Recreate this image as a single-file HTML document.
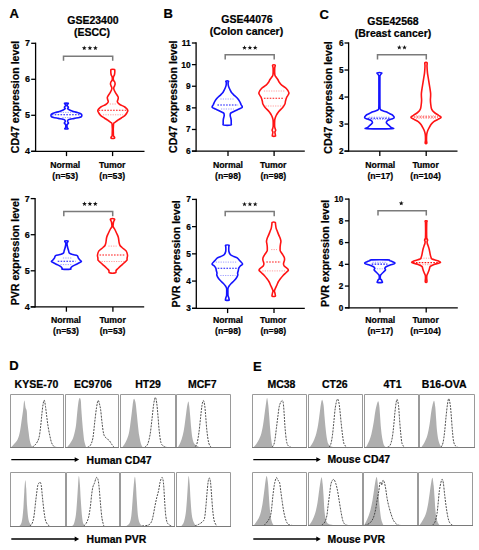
<!DOCTYPE html><html><head><meta charset="utf-8"><style>html,body{margin:0;padding:0;background:#fff;}svg{display:block;}text{font-family:"Liberation Sans", sans-serif;font-weight:bold;fill:#000;stroke:#000;stroke-width:0.22px;paint-order:stroke;}</style></head><body>
<svg width="479" height="550" viewBox="0 0 479 550">
<rect width="479" height="550" fill="#fff"/>
<text x="9.6" y="17.8" font-size="13" text-anchor="start" >A</text>
<text x="163.5" y="18.1" font-size="13" text-anchor="start" >B</text>
<text x="319.4" y="18.8" font-size="13" text-anchor="start" >C</text>
<text x="9.2" y="370" font-size="13" text-anchor="start" >D</text>
<text x="253" y="370.5" font-size="13" text-anchor="start" >E</text>
<text x="92.95" y="23.8" font-size="10.5" text-anchor="middle" >GSE23400</text>
<text x="92.05" y="35.7" font-size="10.5" text-anchor="middle" >(ESCC)</text>
<text x="247.0" y="23.3" font-size="10.5" text-anchor="middle" >GSE44076</text>
<text x="246.4" y="34.9" font-size="10.5" text-anchor="middle" >(Colon cancer)</text>
<text x="393.0" y="25.0" font-size="10.5" text-anchor="middle" >GSE42568</text>
<text x="393.0" y="37.1" font-size="10.5" text-anchor="middle" >(Breast cancer)</text>
<line x1="35.6" y1="42.65" x2="35.6" y2="151.95000000000002" stroke="#000" stroke-width="1.3" />
<line x1="31.200000000000003" y1="151.3" x2="144.5" y2="151.3" stroke="#000" stroke-width="1.3" />
<line x1="31.200000000000003" y1="43.3" x2="35.6" y2="43.3" stroke="#000" stroke-width="1.3" />
<text x="30.0" y="46.449999999999996" font-size="9.0" text-anchor="end" >7</text>
<line x1="31.200000000000003" y1="79.30000000000001" x2="35.6" y2="79.30000000000001" stroke="#000" stroke-width="1.3" />
<text x="30.0" y="82.45000000000002" font-size="9.0" text-anchor="end" >6</text>
<line x1="31.200000000000003" y1="115.30000000000001" x2="35.6" y2="115.30000000000001" stroke="#000" stroke-width="1.3" />
<text x="30.0" y="118.45000000000002" font-size="9.0" text-anchor="end" >5</text>
<line x1="31.200000000000003" y1="151.3" x2="35.6" y2="151.3" stroke="#000" stroke-width="1.3" />
<text x="30.0" y="154.45000000000002" font-size="9.0" text-anchor="end" >4</text>
<line x1="66.5" y1="151.3" x2="66.5" y2="156.10000000000002" stroke="#000" stroke-width="1.3" />
<line x1="112.6" y1="151.3" x2="112.6" y2="156.10000000000002" stroke="#000" stroke-width="1.3" />
<text x="0" y="0" font-size="10.6" text-anchor="middle" transform="translate(18.8,97.0) rotate(-90)">CD47 expression level</text>
<line x1="196.1" y1="42.35" x2="196.1" y2="151.75" stroke="#000" stroke-width="1.3" />
<line x1="191.9" y1="151.1" x2="304.8" y2="151.1" stroke="#000" stroke-width="1.3" />
<line x1="191.9" y1="43.0" x2="196.1" y2="43.0" stroke="#000" stroke-width="1.3" />
<text x="190.6" y="45.94" font-size="8.4" text-anchor="end" >11</text>
<line x1="191.9" y1="64.62" x2="196.1" y2="64.62" stroke="#000" stroke-width="1.3" />
<text x="190.6" y="67.56" font-size="8.4" text-anchor="end" >10</text>
<line x1="191.9" y1="86.24" x2="196.1" y2="86.24" stroke="#000" stroke-width="1.3" />
<text x="190.6" y="89.17999999999999" font-size="8.4" text-anchor="end" >9</text>
<line x1="191.9" y1="107.85999999999999" x2="196.1" y2="107.85999999999999" stroke="#000" stroke-width="1.3" />
<text x="190.6" y="110.79999999999998" font-size="8.4" text-anchor="end" >8</text>
<line x1="191.9" y1="129.48" x2="196.1" y2="129.48" stroke="#000" stroke-width="1.3" />
<text x="190.6" y="132.42" font-size="8.4" text-anchor="end" >7</text>
<line x1="191.9" y1="151.1" x2="196.1" y2="151.1" stroke="#000" stroke-width="1.3" />
<text x="190.6" y="154.04" font-size="8.4" text-anchor="end" >6</text>
<line x1="228.0" y1="151.1" x2="228.0" y2="155.9" stroke="#000" stroke-width="1.3" />
<line x1="274.1" y1="151.1" x2="274.1" y2="155.9" stroke="#000" stroke-width="1.3" />
<text x="0" y="0" font-size="10.6" text-anchor="middle" transform="translate(176.7,96.7) rotate(-90)">CD47 expression level</text>
<line x1="348.6" y1="42.35" x2="348.6" y2="151.75" stroke="#000" stroke-width="1.3" />
<line x1="344.5" y1="151.1" x2="457.5" y2="151.1" stroke="#000" stroke-width="1.3" />
<line x1="344.5" y1="43.0" x2="348.6" y2="43.0" stroke="#000" stroke-width="1.3" />
<text x="343.5" y="45.87" font-size="8.2" text-anchor="end" >6</text>
<line x1="344.5" y1="70.025" x2="348.6" y2="70.025" stroke="#000" stroke-width="1.3" />
<text x="343.5" y="72.89500000000001" font-size="8.2" text-anchor="end" >5</text>
<line x1="344.5" y1="97.05" x2="348.6" y2="97.05" stroke="#000" stroke-width="1.3" />
<text x="343.5" y="99.92" font-size="8.2" text-anchor="end" >4</text>
<line x1="344.5" y1="124.07499999999999" x2="348.6" y2="124.07499999999999" stroke="#000" stroke-width="1.3" />
<text x="343.5" y="126.945" font-size="8.2" text-anchor="end" >3</text>
<line x1="344.5" y1="151.1" x2="348.6" y2="151.1" stroke="#000" stroke-width="1.3" />
<text x="343.5" y="153.97" font-size="8.2" text-anchor="end" >2</text>
<line x1="379.8" y1="151.1" x2="379.8" y2="155.9" stroke="#000" stroke-width="1.3" />
<line x1="426.2" y1="151.1" x2="426.2" y2="155.9" stroke="#000" stroke-width="1.3" />
<text x="0" y="0" font-size="10.6" text-anchor="middle" transform="translate(332.2,97.5) rotate(-90)">CD47 expression level</text>
<line x1="35.1" y1="197.95" x2="35.1" y2="307.54999999999995" stroke="#000" stroke-width="1.3" />
<line x1="30.700000000000003" y1="306.9" x2="144.2" y2="306.9" stroke="#000" stroke-width="1.3" />
<line x1="30.700000000000003" y1="198.6" x2="35.1" y2="198.6" stroke="#000" stroke-width="1.3" />
<text x="29.8" y="201.75" font-size="9.0" text-anchor="end" >7</text>
<line x1="30.700000000000003" y1="234.7" x2="35.1" y2="234.7" stroke="#000" stroke-width="1.3" />
<text x="29.8" y="237.85" font-size="9.0" text-anchor="end" >6</text>
<line x1="30.700000000000003" y1="270.79999999999995" x2="35.1" y2="270.79999999999995" stroke="#000" stroke-width="1.3" />
<text x="29.8" y="273.94999999999993" font-size="9.0" text-anchor="end" >5</text>
<line x1="30.700000000000003" y1="306.9" x2="35.1" y2="306.9" stroke="#000" stroke-width="1.3" />
<text x="29.8" y="310.04999999999995" font-size="9.0" text-anchor="end" >4</text>
<line x1="66.4" y1="306.9" x2="66.4" y2="311.7" stroke="#000" stroke-width="1.3" />
<line x1="112.9" y1="306.9" x2="112.9" y2="311.7" stroke="#000" stroke-width="1.3" />
<text x="0" y="0" font-size="10.6" text-anchor="middle" transform="translate(18.8,251.75) rotate(-90)">PVR expression level</text>
<line x1="196.3" y1="198.75" x2="196.3" y2="308.95" stroke="#000" stroke-width="1.3" />
<line x1="192.0" y1="308.3" x2="304.8" y2="308.3" stroke="#000" stroke-width="1.3" />
<line x1="192.0" y1="199.4" x2="196.3" y2="199.4" stroke="#000" stroke-width="1.3" />
<text x="191.0" y="202.34" font-size="8.4" text-anchor="end" >7</text>
<line x1="192.0" y1="226.625" x2="196.3" y2="226.625" stroke="#000" stroke-width="1.3" />
<text x="191.0" y="229.565" font-size="8.4" text-anchor="end" >6</text>
<line x1="192.0" y1="253.85000000000002" x2="196.3" y2="253.85000000000002" stroke="#000" stroke-width="1.3" />
<text x="191.0" y="256.79" font-size="8.4" text-anchor="end" >5</text>
<line x1="192.0" y1="281.07500000000005" x2="196.3" y2="281.07500000000005" stroke="#000" stroke-width="1.3" />
<text x="191.0" y="284.01500000000004" font-size="8.4" text-anchor="end" >4</text>
<line x1="192.0" y1="308.3" x2="196.3" y2="308.3" stroke="#000" stroke-width="1.3" />
<text x="191.0" y="311.24" font-size="8.4" text-anchor="end" >3</text>
<line x1="227.6" y1="308.3" x2="227.6" y2="313.1" stroke="#000" stroke-width="1.3" />
<line x1="274.0" y1="308.3" x2="274.0" y2="313.1" stroke="#000" stroke-width="1.3" />
<text x="0" y="0" font-size="10.6" text-anchor="middle" transform="translate(180.3,253.85) rotate(-90)">PVR expression level</text>
<line x1="349.0" y1="198.45" x2="349.0" y2="308.45" stroke="#000" stroke-width="1.3" />
<line x1="344.9" y1="307.8" x2="457.8" y2="307.8" stroke="#000" stroke-width="1.3" />
<line x1="344.9" y1="199.1" x2="349.0" y2="199.1" stroke="#000" stroke-width="1.3" />
<text x="343.4" y="201.97" font-size="8.2" text-anchor="end" >10</text>
<line x1="344.9" y1="220.84" x2="349.0" y2="220.84" stroke="#000" stroke-width="1.3" />
<text x="343.4" y="223.71" font-size="8.2" text-anchor="end" >8</text>
<line x1="344.9" y1="242.57999999999998" x2="349.0" y2="242.57999999999998" stroke="#000" stroke-width="1.3" />
<text x="343.4" y="245.45" font-size="8.2" text-anchor="end" >6</text>
<line x1="344.9" y1="264.32" x2="349.0" y2="264.32" stroke="#000" stroke-width="1.3" />
<text x="343.4" y="267.19" font-size="8.2" text-anchor="end" >4</text>
<line x1="344.9" y1="286.06" x2="349.0" y2="286.06" stroke="#000" stroke-width="1.3" />
<text x="343.4" y="288.93" font-size="8.2" text-anchor="end" >2</text>
<line x1="344.9" y1="307.8" x2="349.0" y2="307.8" stroke="#000" stroke-width="1.3" />
<text x="343.4" y="310.67" font-size="8.2" text-anchor="end" >0</text>
<line x1="380.0" y1="307.8" x2="380.0" y2="312.6" stroke="#000" stroke-width="1.3" />
<line x1="426.2" y1="307.8" x2="426.2" y2="312.6" stroke="#000" stroke-width="1.3" />
<text x="0" y="0" font-size="10.6" text-anchor="middle" transform="translate(328.8,253.3) rotate(-90)">PVR expression level</text>
<text x="65.2" y="168.0" font-size="8.7" text-anchor="middle" >Normal</text>
<text x="65.2" y="178.7" font-size="8.7" text-anchor="middle" >(n=53)</text>
<text x="112.25" y="168.0" font-size="8.7" text-anchor="middle" >Tumor</text>
<text x="112.25" y="178.7" font-size="8.7" text-anchor="middle" >(n=53)</text>
<text x="228.0" y="168.0" font-size="8.7" text-anchor="middle" >Normal</text>
<text x="228.0" y="178.7" font-size="8.7" text-anchor="middle" >(n=98)</text>
<text x="273.3" y="168.0" font-size="8.7" text-anchor="middle" >Tumor</text>
<text x="273.3" y="178.7" font-size="8.7" text-anchor="middle" >(n=98)</text>
<text x="380.3" y="168.0" font-size="8.7" text-anchor="middle" >Normal</text>
<text x="380.3" y="178.7" font-size="8.7" text-anchor="middle" >(n=17)</text>
<text x="425.6" y="168.0" font-size="8.7" text-anchor="middle" >Tumor</text>
<text x="425.6" y="178.7" font-size="8.7" text-anchor="middle" >(n=104)</text>
<text x="66.0" y="323.4" font-size="8.7" text-anchor="middle" >Normal</text>
<text x="66.0" y="334.09999999999997" font-size="8.7" text-anchor="middle" >(n=53)</text>
<text x="112.6" y="323.4" font-size="8.7" text-anchor="middle" >Tumor</text>
<text x="112.6" y="334.09999999999997" font-size="8.7" text-anchor="middle" >(n=53)</text>
<text x="228.0" y="323.4" font-size="8.7" text-anchor="middle" >Normal</text>
<text x="228.0" y="334.09999999999997" font-size="8.7" text-anchor="middle" >(n=98)</text>
<text x="273.3" y="323.4" font-size="8.7" text-anchor="middle" >Tumor</text>
<text x="273.3" y="334.09999999999997" font-size="8.7" text-anchor="middle" >(n=98)</text>
<text x="380.3" y="323.4" font-size="8.7" text-anchor="middle" >Normal</text>
<text x="380.3" y="334.09999999999997" font-size="8.7" text-anchor="middle" >(n=17)</text>
<text x="425.6" y="323.4" font-size="8.7" text-anchor="middle" >Tumor</text>
<text x="425.6" y="334.09999999999997" font-size="8.7" text-anchor="middle" >(n=104)</text>
<polyline points="63.5,60.7 63.5,56.3 112.7,56.3 112.7,60.7" fill="none" stroke="#7a7a7a" stroke-width="1.5"/>
<polygon points="84.25,45.60 84.87,47.25 86.63,47.33 85.25,48.42 85.72,50.12 84.25,49.15 82.78,50.12 83.25,48.42 81.87,47.33 83.63,47.25" fill="#111"/>
<polygon points="89.90,45.60 90.52,47.25 92.28,47.33 90.90,48.42 91.37,50.12 89.90,49.15 88.43,50.12 88.90,48.42 87.52,47.33 89.28,47.25" fill="#111"/>
<polygon points="95.40,45.60 96.02,47.25 97.78,47.33 96.40,48.42 96.87,50.12 95.40,49.15 93.93,50.12 94.40,48.42 93.02,47.33 94.78,47.25" fill="#111"/>
<polyline points="225.2,59.6 225.2,54.7 274.2,54.7 274.2,59.6" fill="none" stroke="#7a7a7a" stroke-width="1.5"/>
<polygon points="244.50,45.25 245.12,46.90 246.88,46.98 245.50,48.07 245.97,49.77 244.50,48.80 243.03,49.77 243.50,48.07 242.12,46.98 243.88,46.90" fill="#111"/>
<polygon points="249.90,45.25 250.52,46.90 252.28,46.98 250.90,48.07 251.37,49.77 249.90,48.80 248.43,49.77 248.90,48.07 247.52,46.98 249.28,46.90" fill="#111"/>
<polygon points="255.20,45.25 255.82,46.90 257.58,46.98 256.20,48.07 256.67,49.77 255.20,48.80 253.73,49.77 254.20,48.07 252.82,46.98 254.58,46.90" fill="#111"/>
<polyline points="377.5,59.6 377.5,54.7 426.3,54.7 426.3,59.6" fill="none" stroke="#7a7a7a" stroke-width="1.5"/>
<polygon points="399.30,45.05 399.92,46.70 401.68,46.78 400.30,47.87 400.77,49.57 399.30,48.60 397.83,49.57 398.30,47.87 396.92,46.78 398.68,46.70" fill="#111"/>
<polygon points="404.50,45.05 405.12,46.70 406.88,46.78 405.50,47.87 405.97,49.57 404.50,48.60 403.03,49.57 403.50,47.87 402.12,46.78 403.88,46.70" fill="#111"/>
<polyline points="63.8,216.3 63.8,211.5 112.7,211.5 112.7,216.3" fill="none" stroke="#7a7a7a" stroke-width="1.5"/>
<polygon points="84.50,201.45 85.12,203.10 86.88,203.18 85.50,204.27 85.97,205.97 84.50,205.00 83.03,205.97 83.50,204.27 82.12,203.18 83.88,203.10" fill="#111"/>
<polygon points="89.90,201.45 90.52,203.10 92.28,203.18 90.90,204.27 91.37,205.97 89.90,205.00 88.43,205.97 88.90,204.27 87.52,203.18 89.28,203.10" fill="#111"/>
<polygon points="95.30,201.45 95.92,203.10 97.68,203.18 96.30,204.27 96.77,205.97 95.30,205.00 93.83,205.97 94.30,204.27 92.92,203.18 94.68,203.10" fill="#111"/>
<polyline points="225.2,216.3 225.2,211.5 274.2,211.5 274.2,216.3" fill="none" stroke="#7a7a7a" stroke-width="1.5"/>
<polygon points="244.50,201.75 245.12,203.40 246.88,203.48 245.50,204.57 245.97,206.27 244.50,205.30 243.03,206.27 243.50,204.57 242.12,203.48 243.88,203.40" fill="#111"/>
<polygon points="249.90,201.75 250.52,203.40 252.28,203.48 250.90,204.57 251.37,206.27 249.90,205.30 248.43,206.27 248.90,204.57 247.52,203.48 249.28,203.40" fill="#111"/>
<polygon points="255.20,201.75 255.82,203.40 257.58,203.48 256.20,204.57 256.67,206.27 255.20,205.30 253.73,206.27 254.20,204.57 252.82,203.48 254.58,203.40" fill="#111"/>
<polyline points="378.0,215.5 378.0,210.8 426.3,210.8 426.3,215.5" fill="none" stroke="#7a7a7a" stroke-width="1.5"/>
<polygon points="401.25,200.85 401.87,202.50 403.63,202.58 402.25,203.67 402.72,205.37 401.25,204.40 399.78,205.37 400.25,203.67 398.87,202.58 400.63,202.50" fill="#111"/>
<path d="M68.20,103.30 C68.65,103.52 67.48,104.22 67.30,104.60 C67.12,104.98 66.92,105.17 67.10,105.60 C67.28,106.03 68.32,106.70 68.40,107.20 C68.48,107.70 67.40,108.13 67.60,108.60 C67.80,109.07 68.63,109.52 69.60,110.00 C70.57,110.48 72.10,111.08 73.40,111.50 C74.70,111.92 76.23,112.18 77.40,112.50 C78.57,112.82 79.70,113.08 80.40,113.40 C81.10,113.72 81.40,113.90 81.60,114.40 C81.80,114.90 81.97,115.90 81.60,116.40 C81.23,116.90 80.60,117.07 79.40,117.40 C78.20,117.73 75.98,118.08 74.40,118.40 C72.82,118.72 71.00,119.00 69.90,119.30 C68.80,119.60 68.18,119.82 67.80,120.20 C67.42,120.58 67.48,121.12 67.60,121.60 C67.72,122.08 68.57,122.60 68.50,123.10 C68.43,123.60 67.43,123.90 67.20,124.60 C66.97,125.30 66.97,126.60 67.10,127.30 C67.23,128.00 68.38,128.55 68.00,128.80 C67.62,129.05 65.18,129.05 64.80,128.80 C64.42,128.55 65.57,128.00 65.70,127.30 C65.83,126.60 65.83,125.30 65.60,124.60 C65.37,123.90 64.37,123.60 64.30,123.10 C64.23,122.60 65.08,122.08 65.20,121.60 C65.32,121.12 65.38,120.58 65.00,120.20 C64.62,119.82 64.00,119.60 62.90,119.30 C61.80,119.00 59.98,118.72 58.40,118.40 C56.82,118.08 54.60,117.73 53.40,117.40 C52.20,117.07 51.57,116.90 51.20,116.40 C50.83,115.90 51.00,114.90 51.20,114.40 C51.40,113.90 51.70,113.72 52.40,113.40 C53.10,113.08 54.23,112.82 55.40,112.50 C56.57,112.18 58.10,111.92 59.40,111.50 C60.70,111.08 62.23,110.48 63.20,110.00 C64.17,109.52 65.00,109.07 65.20,108.60 C65.40,108.13 64.32,107.70 64.40,107.20 C64.48,106.70 65.52,106.03 65.70,105.60 C65.88,105.17 65.68,104.98 65.50,104.60 C65.32,104.22 64.15,103.52 64.60,103.30 C65.05,103.08 67.75,103.08 68.20,103.30Z" fill="none" stroke="#1414ff" stroke-width="1.6" stroke-linejoin="round"/>
<line x1="51.8" y1="114.7" x2="81.2" y2="114.7" stroke="#1414ff" stroke-width="1.05" stroke-dasharray="1.6,1.3"/>
<line x1="58" y1="112.4" x2="75" y2="112.4" stroke="#1414ff" stroke-width="0.9" stroke-dasharray="1.2,1.2" opacity="0.45"/>
<line x1="62.4" y1="117.6" x2="70.8" y2="117.6" stroke="#1414ff" stroke-width="0.9" stroke-dasharray="1.2,1.2" opacity="0.45"/>
<path d="M114.40,69.60 C115.00,69.83 114.78,70.18 114.80,71.00 C114.82,71.82 114.73,73.50 114.50,74.50 C114.27,75.50 113.58,76.08 113.40,77.00 C113.22,77.92 113.18,79.17 113.40,80.00 C113.62,80.83 114.42,81.33 114.70,82.00 C114.98,82.67 115.13,83.33 115.10,84.00 C115.07,84.67 114.73,85.25 114.50,86.00 C114.27,86.75 113.57,87.43 113.70,88.50 C113.83,89.57 114.62,91.10 115.30,92.40 C115.98,93.70 117.30,95.40 117.80,96.30 C118.30,97.20 118.30,97.18 118.30,97.80 C118.30,98.42 117.95,99.30 117.80,100.00 C117.65,100.70 117.07,101.25 117.40,102.00 C117.73,102.75 118.57,103.67 119.80,104.50 C121.03,105.33 123.47,106.05 124.80,107.00 C126.13,107.95 127.47,109.20 127.80,110.20 C128.13,111.20 127.30,112.10 126.80,113.00 C126.30,113.90 125.72,114.77 124.80,115.60 C123.88,116.43 122.47,117.23 121.30,118.00 C120.13,118.77 118.88,119.45 117.80,120.20 C116.72,120.95 115.52,121.78 114.80,122.50 C114.08,123.22 113.73,122.42 113.50,124.50 C113.27,126.58 113.25,132.92 113.40,135.00 C113.55,137.08 114.23,136.47 114.40,137.00 C114.57,137.53 114.93,138.00 114.40,138.20 C113.87,138.40 111.73,138.40 111.20,138.20 C110.67,138.00 111.03,137.53 111.20,137.00 C111.37,136.47 112.05,137.08 112.20,135.00 C112.35,132.92 112.33,126.58 112.10,124.50 C111.87,122.42 111.52,123.22 110.80,122.50 C110.08,121.78 108.88,120.95 107.80,120.20 C106.72,119.45 105.47,118.77 104.30,118.00 C103.13,117.23 101.72,116.43 100.80,115.60 C99.88,114.77 99.30,113.90 98.80,113.00 C98.30,112.10 97.47,111.20 97.80,110.20 C98.13,109.20 99.47,107.95 100.80,107.00 C102.13,106.05 104.57,105.33 105.80,104.50 C107.03,103.67 107.87,102.75 108.20,102.00 C108.53,101.25 107.95,100.70 107.80,100.00 C107.65,99.30 107.30,98.42 107.30,97.80 C107.30,97.18 107.30,97.20 107.80,96.30 C108.30,95.40 109.62,93.70 110.30,92.40 C110.98,91.10 111.77,89.57 111.90,88.50 C112.03,87.43 111.33,86.75 111.10,86.00 C110.87,85.25 110.53,84.67 110.50,84.00 C110.47,83.33 110.62,82.67 110.90,82.00 C111.18,81.33 111.98,80.83 112.20,80.00 C112.42,79.17 112.38,77.92 112.20,77.00 C112.02,76.08 111.33,75.50 111.10,74.50 C110.87,73.50 110.78,71.82 110.80,71.00 C110.82,70.18 110.60,69.83 111.20,69.60 C111.80,69.37 113.80,69.37 114.40,69.60Z" fill="none" stroke="#ff1414" stroke-width="1.6" stroke-linejoin="round"/>
<line x1="98.6" y1="110.2" x2="127.2" y2="110.2" stroke="#ff1414" stroke-width="1.05" stroke-dasharray="1.6,1.3"/>
<line x1="109.8" y1="104" x2="115.8" y2="104" stroke="#ff1414" stroke-width="0.9" stroke-dasharray="1.2,1.2" opacity="0.45"/>
<line x1="103" y1="114.8" x2="123" y2="114.8" stroke="#ff1414" stroke-width="0.9" stroke-dasharray="1.2,1.2" opacity="0.45"/>
<path d="M67.90,241.10 C68.33,241.28 67.65,241.82 67.50,242.20 C67.35,242.58 67.03,242.77 67.00,243.40 C66.97,244.03 67.13,245.10 67.30,246.00 C67.47,246.90 67.77,247.97 68.00,248.80 C68.23,249.63 68.47,250.27 68.70,251.00 C68.93,251.73 68.70,252.60 69.40,253.20 C70.10,253.80 71.60,254.20 72.90,254.60 C74.20,255.00 76.28,255.00 77.20,255.60 C78.12,256.20 77.95,257.47 78.40,258.20 C78.85,258.93 79.40,259.45 79.90,260.00 C80.40,260.55 81.57,261.00 81.40,261.50 C81.23,262.00 79.82,262.50 78.90,263.00 C77.98,263.50 77.05,263.88 75.90,264.50 C74.75,265.12 72.88,266.07 72.00,266.70 C71.12,267.33 70.87,267.88 70.60,268.30 C70.33,268.72 71.77,269.05 70.40,269.20 C69.03,269.35 63.77,269.35 62.40,269.20 C61.03,269.05 62.47,268.72 62.20,268.30 C61.93,267.88 61.68,267.33 60.80,266.70 C59.92,266.07 58.05,265.12 56.90,264.50 C55.75,263.88 54.82,263.50 53.90,263.00 C52.98,262.50 51.57,262.00 51.40,261.50 C51.23,261.00 52.40,260.55 52.90,260.00 C53.40,259.45 53.95,258.93 54.40,258.20 C54.85,257.47 54.68,256.20 55.60,255.60 C56.52,255.00 58.60,255.00 59.90,254.60 C61.20,254.20 62.70,253.80 63.40,253.20 C64.10,252.60 63.87,251.73 64.10,251.00 C64.33,250.27 64.57,249.63 64.80,248.80 C65.03,247.97 65.33,246.90 65.50,246.00 C65.67,245.10 65.83,244.03 65.80,243.40 C65.77,242.77 65.45,242.58 65.30,242.20 C65.15,241.82 64.47,241.28 64.90,241.10 C65.33,240.92 67.47,240.92 67.90,241.10Z" fill="none" stroke="#1414ff" stroke-width="1.6" stroke-linejoin="round"/>
<line x1="57.7" y1="261.2" x2="75.5" y2="261.2" stroke="#1414ff" stroke-width="1.05" stroke-dasharray="1.6,1.3"/>
<line x1="62.9" y1="258" x2="71.8" y2="258" stroke="#1414ff" stroke-width="0.9" stroke-dasharray="1.2,1.2" opacity="0.45"/>
<line x1="60.5" y1="264.6" x2="72.3" y2="264.6" stroke="#1414ff" stroke-width="0.9" stroke-dasharray="1.2,1.2" opacity="0.45"/>
<path d="M114.40,218.90 C115.00,219.17 114.35,219.98 114.20,220.50 C114.05,221.02 113.68,221.03 113.50,222.00 C113.32,222.97 112.92,225.13 113.10,226.30 C113.28,227.47 114.03,227.88 114.60,229.00 C115.17,230.12 115.88,231.63 116.50,233.00 C117.12,234.37 117.87,235.58 118.30,237.20 C118.73,238.82 118.82,241.32 119.10,242.70 C119.38,244.08 119.52,244.70 120.00,245.50 C120.48,246.30 120.98,246.60 122.00,247.50 C123.02,248.40 125.18,249.65 126.10,250.90 C127.02,252.15 127.33,253.82 127.50,255.00 C127.67,256.18 127.22,257.10 127.10,258.00 C126.98,258.90 127.32,259.57 126.80,260.40 C126.28,261.23 125.02,262.08 124.00,263.00 C122.98,263.92 121.70,264.98 120.70,265.90 C119.70,266.82 118.77,267.73 118.00,268.50 C117.23,269.27 116.52,269.78 116.10,270.50 C115.68,271.22 116.60,272.42 115.50,272.80 C114.40,273.18 110.60,273.18 109.50,272.80 C108.40,272.42 109.32,271.22 108.90,270.50 C108.48,269.78 107.77,269.27 107.00,268.50 C106.23,267.73 105.30,266.82 104.30,265.90 C103.30,264.98 102.02,263.92 101.00,263.00 C99.98,262.08 98.72,261.23 98.20,260.40 C97.68,259.57 98.02,258.90 97.90,258.00 C97.78,257.10 97.33,256.18 97.50,255.00 C97.67,253.82 97.98,252.15 98.90,250.90 C99.82,249.65 101.98,248.40 103.00,247.50 C104.02,246.60 104.52,246.30 105.00,245.50 C105.48,244.70 105.62,244.08 105.90,242.70 C106.18,241.32 106.27,238.82 106.70,237.20 C107.13,235.58 107.88,234.37 108.50,233.00 C109.12,231.63 109.83,230.12 110.40,229.00 C110.97,227.88 111.72,227.47 111.90,226.30 C112.08,225.13 111.68,222.97 111.50,222.00 C111.32,221.03 110.95,221.02 110.80,220.50 C110.65,219.98 110.00,219.17 110.60,218.90 C111.20,218.63 113.80,218.63 114.40,218.90Z" fill="none" stroke="#ff1414" stroke-width="1.6" stroke-linejoin="round"/>
<line x1="99.5" y1="255" x2="125.5" y2="255" stroke="#ff1414" stroke-width="1.05" stroke-dasharray="1.6,1.3"/>
<line x1="108.4" y1="246.1" x2="116.6" y2="246.1" stroke="#ff1414" stroke-width="0.9" stroke-dasharray="1.2,1.2" opacity="0.45"/>
<line x1="101.6" y1="261.5" x2="124.7" y2="261.5" stroke="#ff1414" stroke-width="0.9" stroke-dasharray="1.2,1.2" opacity="0.45"/>
<path d="M228.50,81.20 C228.87,81.42 228.13,81.80 228.10,82.50 C228.07,83.20 228.12,84.48 228.30,85.40 C228.48,86.32 228.88,87.22 229.20,88.00 C229.52,88.78 229.82,89.35 230.20,90.10 C230.58,90.85 230.92,91.72 231.50,92.50 C232.08,93.28 232.79,93.92 233.70,94.80 C234.61,95.68 235.97,96.72 236.95,97.80 C237.93,98.88 238.92,100.18 239.60,101.30 C240.28,102.42 240.55,103.52 241.00,104.50 C241.45,105.48 242.52,106.50 242.30,107.20 C242.08,107.90 240.68,108.20 239.70,108.70 C238.72,109.20 237.48,109.68 236.40,110.20 C235.32,110.72 234.15,111.32 233.20,111.80 C232.25,112.28 231.20,112.57 230.70,113.10 C230.20,113.63 230.25,114.40 230.20,115.00 C230.15,115.60 230.27,116.03 230.40,116.70 C230.53,117.37 230.87,118.32 231.00,119.00 C231.13,119.68 231.17,120.05 231.20,120.80 C231.23,121.55 231.28,122.80 231.20,123.50 C231.12,124.20 231.95,124.75 230.70,125.00 C229.45,125.25 224.95,125.25 223.70,125.00 C222.45,124.75 223.28,124.20 223.20,123.50 C223.12,122.80 223.17,121.55 223.20,120.80 C223.23,120.05 223.27,119.68 223.40,119.00 C223.53,118.32 223.87,117.37 224.00,116.70 C224.13,116.03 224.25,115.60 224.20,115.00 C224.15,114.40 224.20,113.63 223.70,113.10 C223.20,112.57 222.15,112.28 221.20,111.80 C220.25,111.32 219.08,110.72 218.00,110.20 C216.92,109.68 215.68,109.20 214.70,108.70 C213.72,108.20 212.32,107.90 212.10,107.20 C211.88,106.50 212.95,105.48 213.40,104.50 C213.85,103.52 214.12,102.42 214.80,101.30 C215.47,100.18 216.47,98.88 217.45,97.80 C218.43,96.72 219.79,95.68 220.70,94.80 C221.61,93.92 222.32,93.28 222.90,92.50 C223.48,91.72 223.82,90.85 224.20,90.10 C224.58,89.35 224.88,88.78 225.20,88.00 C225.52,87.22 225.92,86.32 226.10,85.40 C226.28,84.48 226.33,83.20 226.30,82.50 C226.27,81.80 225.53,81.42 225.90,81.20 C226.27,80.98 228.13,80.98 228.50,81.20Z" fill="none" stroke="#1414ff" stroke-width="1.6" stroke-linejoin="round"/>
<line x1="217.4" y1="104.9" x2="238.1" y2="104.9" stroke="#1414ff" stroke-width="1.05" stroke-dasharray="1.6,1.3"/>
<line x1="220.4" y1="99" x2="234.5" y2="99" stroke="#1414ff" stroke-width="0.9" stroke-dasharray="1.2,1.2" opacity="0.45"/>
<line x1="221" y1="109" x2="234" y2="109" stroke="#1414ff" stroke-width="0.9" stroke-dasharray="1.2,1.2" opacity="0.45"/>
<path d="M275.20,65.10 C275.55,65.58 274.77,66.42 274.70,68.00 C274.63,69.58 274.58,73.10 274.80,74.60 C275.02,76.10 275.50,76.18 276.00,77.00 C276.50,77.82 277.23,78.58 277.80,79.50 C278.37,80.42 278.75,81.55 279.40,82.50 C280.05,83.45 280.55,84.20 281.70,85.20 C282.85,86.20 285.10,87.27 286.30,88.50 C287.50,89.73 288.60,91.52 288.90,92.60 C289.20,93.68 288.48,94.18 288.10,95.00 C287.72,95.82 287.03,96.50 286.60,97.50 C286.17,98.50 285.78,99.92 285.50,101.00 C285.22,102.08 285.37,102.92 284.90,104.00 C284.43,105.08 283.58,106.40 282.70,107.50 C281.82,108.60 280.43,109.68 279.60,110.60 C278.77,111.52 278.27,112.18 277.70,113.00 C277.13,113.82 276.62,114.67 276.20,115.50 C275.78,116.33 275.45,117.18 275.20,118.00 C274.95,118.82 274.80,119.07 274.70,120.40 C274.60,121.73 274.53,124.65 274.60,126.00 C274.67,127.35 274.92,127.80 275.10,128.50 C275.28,129.20 275.73,129.62 275.70,130.20 C275.67,130.78 274.97,131.28 274.90,132.00 C274.83,132.72 275.22,133.83 275.30,134.50 C275.38,135.17 275.88,135.75 275.40,136.00 C274.92,136.25 272.88,136.25 272.40,136.00 C271.92,135.75 272.42,135.17 272.50,134.50 C272.58,133.83 272.97,132.72 272.90,132.00 C272.83,131.28 272.13,130.78 272.10,130.20 C272.07,129.62 272.52,129.20 272.70,128.50 C272.88,127.80 273.13,127.35 273.20,126.00 C273.27,124.65 273.20,121.73 273.10,120.40 C273.00,119.07 272.85,118.82 272.60,118.00 C272.35,117.18 272.02,116.33 271.60,115.50 C271.18,114.67 270.67,113.82 270.10,113.00 C269.53,112.18 269.03,111.52 268.20,110.60 C267.37,109.68 265.98,108.60 265.10,107.50 C264.22,106.40 263.37,105.08 262.90,104.00 C262.43,102.92 262.58,102.08 262.30,101.00 C262.02,99.92 261.63,98.50 261.20,97.50 C260.77,96.50 260.08,95.82 259.70,95.00 C259.32,94.18 258.60,93.68 258.90,92.60 C259.20,91.52 260.30,89.73 261.50,88.50 C262.70,87.27 264.95,86.20 266.10,85.20 C267.25,84.20 267.75,83.45 268.40,82.50 C269.05,81.55 269.43,80.42 270.00,79.50 C270.57,78.58 271.30,77.82 271.80,77.00 C272.30,76.18 272.78,76.10 273.00,74.60 C273.22,73.10 273.17,69.58 273.10,68.00 C273.03,66.42 272.25,65.58 272.60,65.10 C272.95,64.62 274.85,64.62 275.20,65.10Z" fill="none" stroke="#ff1414" stroke-width="1.6" stroke-linejoin="round"/>
<line x1="263.9" y1="98.3" x2="284.3" y2="98.3" stroke="#ff1414" stroke-width="1.05" stroke-dasharray="1.6,1.3"/>
<line x1="263.9" y1="91" x2="284.3" y2="91" stroke="#ff1414" stroke-width="0.9" stroke-dasharray="1.2,1.2" opacity="0.45"/>
<line x1="265.5" y1="106" x2="282.7" y2="106" stroke="#ff1414" stroke-width="0.9" stroke-dasharray="1.2,1.2" opacity="0.45"/>
<path d="M228.95,245.20 C229.48,245.50 228.81,245.95 228.80,247.00 C228.79,248.05 228.62,250.22 228.90,251.50 C229.18,252.78 229.68,253.87 230.50,254.70 C231.32,255.53 232.68,255.97 233.80,256.50 C234.92,257.03 236.15,257.15 237.20,257.90 C238.25,258.65 239.20,259.98 240.10,261.00 C241.00,262.02 242.57,263.17 242.60,264.00 C242.63,264.83 240.93,265.32 240.30,266.00 C239.67,266.68 239.13,267.35 238.80,268.10 C238.47,268.85 238.50,269.65 238.30,270.50 C238.10,271.35 237.68,272.45 237.60,273.20 C237.52,273.95 238.03,274.15 237.80,275.00 C237.57,275.85 236.87,277.30 236.20,278.30 C235.53,279.30 234.60,280.17 233.80,281.00 C233.00,281.83 232.18,282.47 231.40,283.30 C230.62,284.13 229.67,285.15 229.10,286.00 C228.53,286.85 228.20,287.40 228.00,288.40 C227.80,289.40 227.90,290.82 227.90,292.00 C227.90,293.18 227.87,294.58 228.00,295.50 C228.13,296.42 228.52,296.85 228.70,297.50 C228.88,298.15 229.07,298.95 229.10,299.40 C229.13,299.85 229.47,300.07 228.90,300.20 C228.33,300.33 226.27,300.33 225.70,300.20 C225.13,300.07 225.47,299.85 225.50,299.40 C225.53,298.95 225.72,298.15 225.90,297.50 C226.08,296.85 226.47,296.42 226.60,295.50 C226.73,294.58 226.70,293.18 226.70,292.00 C226.70,290.82 226.80,289.40 226.60,288.40 C226.40,287.40 226.07,286.85 225.50,286.00 C224.93,285.15 223.98,284.13 223.20,283.30 C222.42,282.47 221.60,281.83 220.80,281.00 C220.00,280.17 219.07,279.30 218.40,278.30 C217.73,277.30 217.03,275.85 216.80,275.00 C216.57,274.15 217.08,273.95 217.00,273.20 C216.92,272.45 216.50,271.35 216.30,270.50 C216.10,269.65 216.13,268.85 215.80,268.10 C215.47,267.35 214.93,266.68 214.30,266.00 C213.67,265.32 211.97,264.83 212.00,264.00 C212.03,263.17 213.60,262.02 214.50,261.00 C215.40,259.98 216.35,258.65 217.40,257.90 C218.45,257.15 219.68,257.03 220.80,256.50 C221.92,255.97 223.28,255.53 224.10,254.70 C224.92,253.87 225.42,252.78 225.70,251.50 C225.98,250.22 225.81,248.05 225.80,247.00 C225.79,245.95 225.12,245.50 225.65,245.20 C226.18,244.90 228.43,244.90 228.95,245.20Z" fill="none" stroke="#1414ff" stroke-width="1.6" stroke-linejoin="round"/>
<line x1="217.7" y1="268.3" x2="238.7" y2="268.3" stroke="#1414ff" stroke-width="1.05" stroke-dasharray="1.6,1.3"/>
<line x1="215.8" y1="262.1" x2="237.4" y2="262.1" stroke="#1414ff" stroke-width="0.9" stroke-dasharray="1.2,1.2" opacity="0.45"/>
<line x1="220.3" y1="275.5" x2="235.5" y2="275.5" stroke="#1414ff" stroke-width="0.9" stroke-dasharray="1.2,1.2" opacity="0.45"/>
<path d="M275.20,222.40 C275.75,222.67 275.35,223.05 275.50,224.00 C275.65,224.95 275.82,226.93 276.10,228.10 C276.38,229.27 276.78,229.92 277.20,231.00 C277.62,232.08 278.12,233.43 278.60,234.60 C279.08,235.77 279.72,236.92 280.10,238.00 C280.48,239.08 280.83,240.10 280.90,241.10 C280.97,242.10 280.62,243.18 280.50,244.00 C280.38,244.82 280.27,245.17 280.20,246.00 C280.13,246.83 280.08,248.17 280.10,249.00 C280.12,249.83 279.93,250.17 280.30,251.00 C280.67,251.83 281.63,252.92 282.30,254.00 C282.97,255.08 283.93,256.50 284.30,257.50 C284.67,258.50 284.57,259.25 284.50,260.00 C284.43,260.75 284.07,261.33 283.90,262.00 C283.73,262.67 283.45,263.33 283.50,264.00 C283.55,264.67 283.67,265.33 284.20,266.00 C284.73,266.67 286.00,267.30 286.70,268.00 C287.40,268.70 288.48,269.45 288.40,270.20 C288.32,270.95 287.08,271.62 286.20,272.50 C285.32,273.38 284.10,274.42 283.10,275.50 C282.10,276.58 281.02,277.92 280.20,279.00 C279.38,280.08 278.78,280.92 278.20,282.00 C277.62,283.08 277.18,284.42 276.70,285.50 C276.22,286.58 275.68,287.58 275.30,288.50 C274.92,289.42 274.47,290.25 274.40,291.00 C274.33,291.75 274.75,292.33 274.90,293.00 C275.05,293.67 275.25,294.47 275.30,295.00 C275.35,295.53 275.72,296.00 275.20,296.20 C274.68,296.40 272.72,296.40 272.20,296.20 C271.68,296.00 272.05,295.53 272.10,295.00 C272.15,294.47 272.35,293.67 272.50,293.00 C272.65,292.33 273.07,291.75 273.00,291.00 C272.93,290.25 272.48,289.42 272.10,288.50 C271.72,287.58 271.18,286.58 270.70,285.50 C270.22,284.42 269.78,283.08 269.20,282.00 C268.62,280.92 268.02,280.08 267.20,279.00 C266.38,277.92 265.30,276.58 264.30,275.50 C263.30,274.42 262.08,273.38 261.20,272.50 C260.32,271.62 259.08,270.95 259.00,270.20 C258.92,269.45 260.00,268.70 260.70,268.00 C261.40,267.30 262.67,266.67 263.20,266.00 C263.73,265.33 263.85,264.67 263.90,264.00 C263.95,263.33 263.67,262.67 263.50,262.00 C263.33,261.33 262.97,260.75 262.90,260.00 C262.83,259.25 262.73,258.50 263.10,257.50 C263.47,256.50 264.43,255.08 265.10,254.00 C265.77,252.92 266.73,251.83 267.10,251.00 C267.47,250.17 267.28,249.83 267.30,249.00 C267.32,248.17 267.27,246.83 267.20,246.00 C267.13,245.17 267.02,244.82 266.90,244.00 C266.78,243.18 266.43,242.10 266.50,241.10 C266.57,240.10 266.92,239.08 267.30,238.00 C267.68,236.92 268.32,235.77 268.80,234.60 C269.28,233.43 269.78,232.08 270.20,231.00 C270.62,229.92 271.02,229.27 271.30,228.10 C271.58,226.93 271.75,224.95 271.90,224.00 C272.05,223.05 271.65,222.67 272.20,222.40 C272.75,222.13 274.65,222.13 275.20,222.40Z" fill="none" stroke="#ff1414" stroke-width="1.6" stroke-linejoin="round"/>
<line x1="266.3" y1="261.9" x2="281" y2="261.9" stroke="#ff1414" stroke-width="1.05" stroke-dasharray="1.6,1.3"/>
<line x1="271.2" y1="249.6" x2="277" y2="249.6" stroke="#ff1414" stroke-width="0.9" stroke-dasharray="1.2,1.2" opacity="0.45"/>
<line x1="262.3" y1="270.9" x2="286" y2="270.9" stroke="#ff1414" stroke-width="0.9" stroke-dasharray="1.2,1.2" opacity="0.45"/>
<path d="M381.70,72.90 C382.33,73.12 381.18,73.72 380.90,74.20 C380.62,74.68 380.17,75.17 380.00,75.80 C379.83,76.43 379.92,73.97 379.90,78.00 C379.88,82.03 379.88,95.00 379.90,100.00 C379.92,105.00 379.85,106.37 380.00,108.00 C380.15,109.63 380.23,109.30 380.80,109.80 C381.37,110.30 382.42,110.62 383.40,111.00 C384.38,111.38 385.62,111.63 386.70,112.10 C387.78,112.57 388.88,113.27 389.90,113.80 C390.92,114.33 392.08,114.63 392.80,115.30 C393.52,115.97 394.43,117.18 394.20,117.80 C393.97,118.42 392.43,118.58 391.40,119.00 C390.37,119.42 388.80,119.87 388.00,120.30 C387.20,120.73 386.87,121.17 386.60,121.60 C386.33,122.03 386.18,122.42 386.40,122.90 C386.62,123.38 387.37,123.98 387.90,124.50 C388.43,125.02 389.05,125.50 389.60,126.00 C390.15,126.50 390.80,127.07 391.20,127.50 C391.60,127.93 396.07,128.42 392.00,128.60 C387.93,128.78 370.87,128.78 366.80,128.60 C362.73,128.42 367.20,127.93 367.60,127.50 C368.00,127.07 368.65,126.50 369.20,126.00 C369.75,125.50 370.37,125.02 370.90,124.50 C371.43,123.98 372.18,123.38 372.40,122.90 C372.62,122.42 372.47,122.03 372.20,121.60 C371.93,121.17 371.60,120.73 370.80,120.30 C370.00,119.87 368.43,119.42 367.40,119.00 C366.37,118.58 364.83,118.42 364.60,117.80 C364.37,117.18 365.28,115.97 366.00,115.30 C366.72,114.63 367.88,114.33 368.90,113.80 C369.92,113.27 371.02,112.57 372.10,112.10 C373.18,111.63 374.42,111.38 375.40,111.00 C376.38,110.62 377.43,110.30 378.00,109.80 C378.57,109.30 378.65,109.63 378.80,108.00 C378.95,106.37 378.88,105.00 378.90,100.00 C378.92,95.00 378.92,82.03 378.90,78.00 C378.88,73.97 378.97,76.43 378.80,75.80 C378.63,75.17 378.18,74.68 377.90,74.20 C377.62,73.72 376.47,73.12 377.10,72.90 C377.73,72.68 381.07,72.68 381.70,72.90Z" fill="none" stroke="#1414ff" stroke-width="1.6" stroke-linejoin="round"/>
<line x1="367.7" y1="118.2" x2="390.6" y2="118.2" stroke="#1414ff" stroke-width="1.05" stroke-dasharray="1.6,1.3"/>
<line x1="369" y1="117.2" x2="390" y2="117.2" stroke="#1414ff" stroke-width="0.9" stroke-dasharray="1.2,1.2" opacity="0.45"/>
<line x1="370" y1="119.4" x2="389" y2="119.4" stroke="#1414ff" stroke-width="0.9" stroke-dasharray="1.2,1.2" opacity="0.45"/>
<path d="M427.10,62.80 C427.45,63.33 426.95,64.42 427.00,66.00 C427.05,67.58 427.22,70.47 427.40,72.30 C427.58,74.13 427.83,75.27 428.10,77.00 C428.37,78.73 428.70,80.87 429.00,82.70 C429.30,84.53 429.63,86.27 429.90,88.00 C430.17,89.73 430.48,91.68 430.60,93.10 C430.72,94.52 430.63,95.35 430.60,96.50 C430.57,97.65 430.38,98.75 430.40,100.00 C430.42,101.25 430.53,102.57 430.70,104.00 C430.87,105.43 431.05,107.43 431.40,108.60 C431.75,109.77 432.20,110.27 432.80,111.00 C433.40,111.73 434.05,112.28 435.00,113.00 C435.95,113.72 437.48,114.58 438.50,115.30 C439.52,116.02 441.18,116.62 441.10,117.30 C441.02,117.98 439.22,118.68 438.00,119.40 C436.78,120.12 434.97,120.75 433.80,121.60 C432.63,122.45 431.77,123.48 431.00,124.50 C430.23,125.52 429.77,126.62 429.20,127.70 C428.63,128.78 428.02,129.85 427.60,131.00 C427.18,132.15 426.88,133.10 426.70,134.60 C426.52,136.10 426.48,138.57 426.50,140.00 C426.52,141.43 427.02,142.67 426.80,143.20 C426.58,143.73 425.42,143.73 425.20,143.20 C424.98,142.67 425.48,141.43 425.50,140.00 C425.52,138.57 425.48,136.10 425.30,134.60 C425.12,133.10 424.82,132.15 424.40,131.00 C423.98,129.85 423.37,128.78 422.80,127.70 C422.23,126.62 421.77,125.52 421.00,124.50 C420.23,123.48 419.37,122.45 418.20,121.60 C417.03,120.75 415.22,120.12 414.00,119.40 C412.78,118.68 410.98,117.98 410.90,117.30 C410.82,116.62 412.48,116.02 413.50,115.30 C414.52,114.58 416.05,113.72 417.00,113.00 C417.95,112.28 418.60,111.73 419.20,111.00 C419.80,110.27 420.25,109.77 420.60,108.60 C420.95,107.43 421.13,105.43 421.30,104.00 C421.47,102.57 421.58,101.25 421.60,100.00 C421.62,98.75 421.43,97.65 421.40,96.50 C421.37,95.35 421.28,94.52 421.40,93.10 C421.52,91.68 421.83,89.73 422.10,88.00 C422.37,86.27 422.70,84.53 423.00,82.70 C423.30,80.87 423.63,78.73 423.90,77.00 C424.17,75.27 424.42,74.13 424.60,72.30 C424.78,70.47 424.95,67.58 425.00,66.00 C425.05,64.42 424.55,63.33 424.90,62.80 C425.25,62.27 426.75,62.27 427.10,62.80Z" fill="none" stroke="#ff1414" stroke-width="1.6" stroke-linejoin="round"/>
<line x1="413.8" y1="117.0" x2="438" y2="117.0" stroke="#ff1414" stroke-width="1.05" stroke-dasharray="1.6,1.3"/>
<line x1="416" y1="115.8" x2="436" y2="115.8" stroke="#ff1414" stroke-width="0.9" stroke-dasharray="1.2,1.2" opacity="0.45"/>
<line x1="416" y1="118.3" x2="436" y2="118.3" stroke="#ff1414" stroke-width="0.9" stroke-dasharray="1.2,1.2" opacity="0.45"/>
<path d="M388.00,259.90 C390.97,259.98 388.63,260.10 389.40,260.40 C390.17,260.70 391.68,261.20 392.60,261.70 C393.52,262.20 395.30,262.83 394.90,263.40 C394.50,263.97 391.67,264.55 390.20,265.10 C388.73,265.65 387.00,266.17 386.10,266.70 C385.20,267.23 384.90,267.78 384.80,268.30 C384.70,268.82 385.58,269.30 385.50,269.80 C385.42,270.30 384.80,270.77 384.30,271.30 C383.80,271.83 383.03,272.47 382.50,273.00 C381.97,273.53 381.45,274.07 381.10,274.50 C380.75,274.93 380.52,274.90 380.40,275.60 C380.28,276.30 380.20,277.93 380.40,278.70 C380.60,279.47 381.32,279.73 381.60,280.20 C381.88,280.67 382.02,281.13 382.10,281.50 C382.18,281.87 382.87,282.25 382.10,282.40 C381.33,282.55 378.27,282.55 377.50,282.40 C376.73,282.25 377.42,281.87 377.50,281.50 C377.58,281.13 377.72,280.67 378.00,280.20 C378.28,279.73 379.00,279.47 379.20,278.70 C379.40,277.93 379.32,276.30 379.20,275.60 C379.08,274.90 378.85,274.93 378.50,274.50 C378.15,274.07 377.63,273.53 377.10,273.00 C376.57,272.47 375.80,271.83 375.30,271.30 C374.80,270.77 374.18,270.30 374.10,269.80 C374.02,269.30 374.90,268.82 374.80,268.30 C374.70,267.78 374.40,267.23 373.50,266.70 C372.60,266.17 370.87,265.65 369.40,265.10 C367.93,264.55 365.10,263.97 364.70,263.40 C364.30,262.83 366.08,262.20 367.00,261.70 C367.92,261.20 369.43,260.70 370.20,260.40 C370.97,260.10 368.63,259.98 371.60,259.90 C374.57,259.82 385.03,259.82 388.00,259.90Z" fill="none" stroke="#1414ff" stroke-width="1.6" stroke-linejoin="round"/>
<line x1="371.7" y1="264.1" x2="387.4" y2="264.1" stroke="#1414ff" stroke-width="1.05" stroke-dasharray="1.6,1.3"/>
<line x1="372.5" y1="262.3" x2="387" y2="262.3" stroke="#1414ff" stroke-width="0.9" stroke-dasharray="1.2,1.2" opacity="0.45"/>
<line x1="376.9" y1="268.8" x2="382.7" y2="268.8" stroke="#1414ff" stroke-width="0.9" stroke-dasharray="1.2,1.2" opacity="0.45"/>
<path d="M427.10,221.10 C427.37,221.42 426.77,220.22 426.70,223.00 C426.63,225.78 426.60,235.13 426.70,237.80 C426.80,240.47 427.15,238.60 427.30,239.00 C427.45,239.40 427.63,239.78 427.60,240.20 C427.57,240.62 427.15,240.95 427.10,241.50 C427.05,242.05 427.12,242.75 427.30,243.50 C427.48,244.25 427.88,245.05 428.20,246.00 C428.52,246.95 428.85,247.72 429.20,249.20 C429.55,250.68 429.98,253.52 430.30,254.90 C430.62,256.28 430.80,256.82 431.10,257.50 C431.40,258.18 431.02,258.47 432.10,259.00 C433.18,259.53 436.18,260.15 437.60,260.70 C439.02,261.25 440.60,261.83 440.60,262.30 C440.60,262.77 438.68,263.15 437.60,263.50 C436.52,263.85 435.32,263.92 434.10,264.40 C432.88,264.88 431.07,265.72 430.30,266.40 C429.53,267.08 429.73,267.82 429.50,268.50 C429.27,269.18 429.17,269.75 428.90,270.50 C428.63,271.25 428.23,272.18 427.90,273.00 C427.57,273.82 427.10,274.57 426.90,275.40 C426.70,276.23 426.70,276.92 426.70,278.00 C426.70,279.08 427.13,281.25 426.90,281.90 C426.67,282.55 425.53,282.55 425.30,281.90 C425.07,281.25 425.50,279.08 425.50,278.00 C425.50,276.92 425.50,276.23 425.30,275.40 C425.10,274.57 424.63,273.82 424.30,273.00 C423.97,272.18 423.57,271.25 423.30,270.50 C423.03,269.75 422.93,269.18 422.70,268.50 C422.47,267.82 422.67,267.08 421.90,266.40 C421.13,265.72 419.32,264.88 418.10,264.40 C416.88,263.92 415.68,263.85 414.60,263.50 C413.52,263.15 411.60,262.77 411.60,262.30 C411.60,261.83 413.18,261.25 414.60,260.70 C416.02,260.15 419.02,259.53 420.10,259.00 C421.18,258.47 420.80,258.18 421.10,257.50 C421.40,256.82 421.58,256.28 421.90,254.90 C422.22,253.52 422.65,250.68 423.00,249.20 C423.35,247.72 423.68,246.95 424.00,246.00 C424.32,245.05 424.72,244.25 424.90,243.50 C425.08,242.75 425.15,242.05 425.10,241.50 C425.05,240.95 424.63,240.62 424.60,240.20 C424.57,239.78 424.75,239.40 424.90,239.00 C425.05,238.60 425.40,240.47 425.50,237.80 C425.60,235.13 425.57,225.78 425.50,223.00 C425.43,220.22 424.83,221.42 425.10,221.10 C425.37,220.78 426.83,220.78 427.10,221.10Z" fill="none" stroke="#ff1414" stroke-width="1.6" stroke-linejoin="round"/>
<line x1="413" y1="262.6" x2="439" y2="262.6" stroke="#ff1414" stroke-width="1.05" stroke-dasharray="1.6,1.3"/>
<line x1="421" y1="258.2" x2="431" y2="258.2" stroke="#ff1414" stroke-width="0.9" stroke-dasharray="1.2,1.2" opacity="0.45"/>
<line x1="420" y1="264.7" x2="432" y2="264.7" stroke="#ff1414" stroke-width="0.9" stroke-dasharray="1.2,1.2" opacity="0.45"/>
<path d="M11.00,447.50 C11.52,446.93 12.98,445.48 14.10,444.10 C15.22,442.72 16.70,441.43 17.70,439.20 C18.70,436.97 19.40,434.13 20.10,430.70 C20.80,427.27 21.40,422.02 21.90,418.60 C22.40,415.18 22.70,413.22 23.10,410.20 C23.50,407.18 23.88,400.92 24.30,400.50 C24.72,400.08 25.18,405.88 25.60,407.70 C26.02,409.52 26.50,408.97 26.80,411.40 C27.10,413.83 27.10,418.87 27.40,422.30 C27.70,425.73 28.20,428.98 28.60,432.00 C29.00,435.02 29.30,438.08 29.80,440.40 C30.30,442.72 31.00,444.72 31.60,445.90 C32.20,447.08 33.10,447.23 33.40,447.50 L33.40,447.70 L11.00,447.70Z" fill="#afafaf" stroke="none"/>
<path d="M32.20,447.30 C32.80,446.77 34.68,445.65 35.80,444.10 C36.92,442.55 38.08,441.03 38.90,438.00 C39.72,434.97 40.20,429.93 40.70,425.90 C41.20,421.87 41.50,417.43 41.90,413.80 C42.30,410.17 42.70,406.37 43.10,404.10 C43.50,401.83 43.90,399.80 44.30,400.20 C44.70,400.60 45.10,403.83 45.50,406.50 C45.90,409.17 46.28,412.97 46.70,416.20 C47.12,419.43 47.48,422.67 48.00,425.90 C48.52,429.13 49.20,432.78 49.80,435.60 C50.40,438.42 50.90,440.98 51.60,442.80 C52.30,444.62 53.20,445.73 54.00,446.50 C54.80,447.27 56.00,447.25 56.40,447.40" fill="none" stroke="#303030" stroke-width="0.85" stroke-dasharray="2,1.1"/>
<polyline points="10.5,447.5 10.5,394.5 63.5,394.5 63.5,447.5" fill="none" stroke="#9a9a9a" stroke-width="1"/>
<line x1="10.0" y1="447.5" x2="64.0" y2="447.5" stroke="#7a7a7a" stroke-width="1"/>
<path d="M66.80,447.50 C67.42,446.72 69.38,444.58 70.50,442.80 C71.62,441.02 72.60,439.62 73.50,436.80 C74.40,433.98 75.30,429.73 75.90,425.90 C76.50,422.07 76.70,417.63 77.10,413.80 C77.50,409.97 77.88,405.52 78.30,402.90 C78.72,400.28 79.18,398.50 79.60,398.10 C80.02,397.70 80.50,398.48 80.80,400.50 C81.10,402.52 81.15,406.57 81.40,410.20 C81.65,413.83 82.00,418.67 82.30,422.30 C82.60,425.93 82.85,428.78 83.20,432.00 C83.55,435.22 83.90,439.02 84.40,441.60 C84.90,444.18 85.90,446.52 86.20,447.50 L86.20,447.70 L66.80,447.70Z" fill="#afafaf" stroke="none"/>
<path d="M87.40,447.40 C87.90,447.05 89.48,446.87 90.40,445.30 C91.32,443.73 92.18,441.83 92.90,438.00 C93.62,434.17 94.10,427.35 94.70,422.30 C95.30,417.25 95.93,411.33 96.50,407.70 C97.07,404.07 97.60,401.10 98.10,400.50 C98.60,399.90 99.07,402.48 99.50,404.10 C99.93,405.72 100.28,407.17 100.70,410.20 C101.12,413.23 101.48,418.27 102.00,422.30 C102.52,426.33 103.00,431.68 103.80,434.40 C104.60,437.12 105.90,437.60 106.80,438.60 C107.70,439.60 108.40,439.48 109.20,440.40 C110.00,441.32 110.78,442.95 111.60,444.10 C112.42,445.25 113.68,446.77 114.10,447.30" fill="none" stroke="#303030" stroke-width="0.85" stroke-dasharray="2,1.1"/>
<polyline points="65.5,447.5 65.5,394.5 118.5,394.5 118.5,447.5" fill="none" stroke="#9a9a9a" stroke-width="1"/>
<line x1="65.0" y1="447.5" x2="119.0" y2="447.5" stroke="#7a7a7a" stroke-width="1"/>
<path d="M122.20,447.50 C122.72,446.72 124.28,444.78 125.30,442.80 C126.32,440.82 127.50,438.42 128.30,435.60 C129.10,432.78 129.50,429.93 130.10,425.90 C130.70,421.87 131.40,415.43 131.90,411.40 C132.40,407.37 132.73,403.82 133.10,401.70 C133.47,399.58 133.68,398.50 134.10,398.70 C134.52,398.90 135.15,400.38 135.60,402.90 C136.05,405.42 136.40,409.97 136.80,413.80 C137.20,417.63 137.60,422.27 138.00,425.90 C138.40,429.53 138.70,432.57 139.20,435.60 C139.70,438.63 140.40,442.12 141.00,444.10 C141.60,446.08 142.50,446.93 142.80,447.50 L142.80,447.70 L122.20,447.70Z" fill="#afafaf" stroke="none"/>
<path d="M144.60,447.40 C145.12,446.85 146.78,446.27 147.70,444.10 C148.62,441.93 149.40,438.45 150.10,434.40 C150.80,430.35 151.30,424.85 151.90,419.80 C152.50,414.75 153.13,407.83 153.70,404.10 C154.27,400.37 154.80,397.60 155.30,397.40 C155.80,397.20 156.25,399.77 156.70,402.90 C157.15,406.03 157.58,411.57 158.00,416.20 C158.42,420.83 158.70,426.27 159.20,430.70 C159.70,435.13 160.20,440.17 161.00,442.80 C161.80,445.43 163.00,445.73 164.00,446.50 C165.00,447.27 166.50,447.25 167.00,447.40" fill="none" stroke="#303030" stroke-width="0.85" stroke-dasharray="2,1.1"/>
<polyline points="120.5,447.5 120.5,394.5 175.5,394.5 175.5,447.5" fill="none" stroke="#9a9a9a" stroke-width="1"/>
<line x1="120.0" y1="447.5" x2="176.0" y2="447.5" stroke="#7a7a7a" stroke-width="1"/>
<path d="M177.80,447.50 C178.22,446.72 179.48,444.78 180.30,442.80 C181.12,440.82 182.00,438.42 182.70,435.60 C183.40,432.78 183.93,429.53 184.50,425.90 C185.07,422.27 185.63,417.23 186.10,413.80 C186.57,410.37 186.92,407.37 187.30,405.30 C187.68,403.23 188.07,401.20 188.40,401.40 C188.73,401.60 189.00,404.03 189.30,406.50 C189.60,408.97 189.88,412.57 190.20,416.20 C190.52,419.83 190.83,424.67 191.20,428.30 C191.57,431.93 191.90,435.47 192.40,438.00 C192.90,440.53 193.40,442.18 194.20,443.50 C195.00,444.82 196.10,445.23 197.20,445.90 C198.30,446.57 200.20,447.23 200.80,447.50 L200.80,447.70 L177.80,447.70Z" fill="#afafaf" stroke="none"/>
<path d="M195.40,446.50 C195.70,445.88 196.60,445.22 197.20,442.80 C197.80,440.38 198.43,436.23 199.00,432.00 C199.57,427.77 200.10,421.85 200.60,417.40 C201.10,412.95 201.55,408.12 202.00,405.30 C202.45,402.48 202.85,400.50 203.30,400.50 C203.75,400.50 204.30,402.68 204.70,405.30 C205.10,407.92 205.33,411.97 205.70,416.20 C206.07,420.43 206.40,426.27 206.90,430.70 C207.40,435.13 208.00,440.03 208.70,442.80 C209.40,445.57 210.70,446.55 211.10,447.30" fill="none" stroke="#303030" stroke-width="0.85" stroke-dasharray="2,1.1"/>
<polyline points="176.5,447.5 176.5,394.5 230.5,394.5 230.5,447.5" fill="none" stroke="#9a9a9a" stroke-width="1"/>
<line x1="176.0" y1="447.5" x2="231.0" y2="447.5" stroke="#7a7a7a" stroke-width="1"/>
<path d="M19.50,526.00 C19.80,525.55 20.80,524.77 21.30,523.30 C21.80,521.83 22.13,520.03 22.50,517.20 C22.87,514.37 23.20,510.53 23.50,506.30 C23.80,502.07 24.00,496.13 24.30,491.80 C24.60,487.47 24.98,480.90 25.30,480.30 C25.62,479.70 25.90,483.87 26.20,488.20 C26.50,492.53 26.75,501.27 27.10,506.30 C27.45,511.33 27.85,515.57 28.30,518.40 C28.75,521.23 29.25,522.03 29.80,523.30 C30.35,524.57 31.30,525.55 31.60,526.00 L31.60,526.30 L19.50,526.30Z" fill="#afafaf" stroke="none"/>
<path d="M29.80,525.90 C30.20,525.47 31.50,524.95 32.20,523.30 C32.90,521.65 33.40,519.83 34.00,516.00 C34.60,512.17 35.18,505.35 35.80,500.30 C36.42,495.25 37.18,488.53 37.70,485.70 C38.22,482.87 38.50,483.90 38.90,483.30 C39.30,482.70 39.70,481.70 40.10,482.10 C40.50,482.50 40.90,483.08 41.30,485.70 C41.70,488.32 42.00,493.15 42.50,497.80 C43.00,502.45 43.70,509.55 44.30,513.60 C44.90,517.65 45.28,520.05 46.10,522.10 C46.92,524.15 48.68,525.27 49.20,525.90" fill="none" stroke="#303030" stroke-width="0.85" stroke-dasharray="2,1.1"/>
<polyline points="10.5,526.5 10.5,472.5 65.5,472.5 65.5,526.5" fill="none" stroke="#9a9a9a" stroke-width="1"/>
<line x1="10.0" y1="526.5" x2="66.0" y2="526.5" stroke="#7a7a7a" stroke-width="1"/>
<path d="M72.30,526.00 C72.60,525.55 73.50,525.17 74.10,523.30 C74.70,521.43 75.40,518.63 75.90,514.80 C76.40,510.97 76.73,505.35 77.10,500.30 C77.47,495.25 77.80,488.53 78.10,484.50 C78.40,480.47 78.60,476.10 78.90,476.10 C79.20,476.10 79.58,480.47 79.90,484.50 C80.22,488.53 80.45,495.05 80.80,500.30 C81.15,505.55 81.60,512.17 82.00,516.00 C82.40,519.83 82.70,521.63 83.20,523.30 C83.70,524.97 84.70,525.55 85.00,526.00 L85.00,526.30 L72.30,526.30Z" fill="#afafaf" stroke="none"/>
<path d="M83.80,525.90 C84.20,525.47 85.40,524.75 86.20,523.30 C87.00,521.85 87.90,520.03 88.60,517.20 C89.30,514.37 89.88,510.13 90.40,506.30 C90.92,502.47 91.28,497.43 91.70,494.20 C92.12,490.97 92.45,488.72 92.90,486.90 C93.35,485.08 93.90,484.70 94.40,483.30 C94.90,481.90 95.45,479.47 95.90,478.50 C96.35,477.53 96.70,477.10 97.10,477.50 C97.50,477.90 97.93,478.92 98.30,480.90 C98.67,482.88 98.93,485.57 99.30,489.40 C99.67,493.23 100.05,499.07 100.50,503.90 C100.95,508.73 101.45,514.73 102.00,518.40 C102.55,522.07 103.50,524.65 103.80,525.90" fill="none" stroke="#303030" stroke-width="0.85" stroke-dasharray="2,1.1"/>
<polyline points="66.5,526.5 66.5,472.5 119.5,472.5 119.5,526.5" fill="none" stroke="#9a9a9a" stroke-width="1"/>
<line x1="66.0" y1="526.5" x2="120.0" y2="526.5" stroke="#7a7a7a" stroke-width="1"/>
<path d="M126.50,526.00 C127.00,525.55 128.70,524.97 129.50,523.30 C130.30,521.63 130.80,519.63 131.30,516.00 C131.80,512.37 132.10,506.55 132.50,501.50 C132.90,496.45 133.30,489.83 133.70,485.70 C134.10,481.57 134.53,476.90 134.90,476.70 C135.27,476.50 135.58,480.57 135.90,484.50 C136.22,488.43 136.45,495.05 136.80,500.30 C137.15,505.55 137.50,512.17 138.00,516.00 C138.50,519.83 139.10,521.63 139.80,523.30 C140.50,524.97 141.80,525.55 142.20,526.00 L142.20,526.30 L126.50,526.30Z" fill="#afafaf" stroke="none"/>
<path d="M142.20,525.90 C143.22,525.77 146.78,525.73 148.30,525.10 C149.82,524.47 150.50,523.62 151.30,522.10 C152.10,520.58 152.50,518.63 153.10,516.00 C153.70,513.37 154.30,509.33 154.90,506.30 C155.50,503.27 156.08,500.42 156.70,497.80 C157.32,495.18 158.03,493.22 158.60,490.60 C159.17,487.98 159.57,484.28 160.10,482.10 C160.63,479.92 161.32,477.90 161.80,477.50 C162.28,477.10 162.67,478.13 163.00,479.70 C163.33,481.27 163.53,483.47 163.80,486.90 C164.07,490.33 164.27,495.45 164.60,500.30 C164.93,505.15 165.30,512.17 165.80,516.00 C166.30,519.83 166.68,521.65 167.60,523.30 C168.52,524.95 170.68,525.47 171.30,525.90" fill="none" stroke="#303030" stroke-width="0.85" stroke-dasharray="2,1.1"/>
<polyline points="120.5,526.5 120.5,472.5 174.5,472.5 174.5,526.5" fill="none" stroke="#9a9a9a" stroke-width="1"/>
<line x1="120.0" y1="526.5" x2="175.0" y2="526.5" stroke="#7a7a7a" stroke-width="1"/>
<path d="M181.50,526.00 C181.90,525.35 183.20,524.17 183.90,522.10 C184.60,520.03 185.20,517.23 185.70,513.60 C186.20,509.97 186.53,505.15 186.90,500.30 C187.27,495.45 187.60,488.53 187.90,484.50 C188.20,480.47 188.40,476.10 188.70,476.10 C189.00,476.10 189.38,480.47 189.70,484.50 C190.02,488.53 190.25,495.25 190.60,500.30 C190.95,505.35 191.30,511.17 191.80,514.80 C192.30,518.43 192.90,520.23 193.60,522.10 C194.30,523.97 195.60,525.35 196.00,526.00 L196.00,526.30 L181.50,526.30Z" fill="#afafaf" stroke="none"/>
<path d="M194.80,525.90 C195.40,525.67 197.18,525.13 198.40,524.50 C199.62,523.87 201.08,523.12 202.10,522.10 C203.12,521.08 203.87,521.03 204.50,518.40 C205.13,515.77 205.50,510.33 205.90,506.30 C206.30,502.27 206.53,498.23 206.90,494.20 C207.27,490.17 207.70,484.82 208.10,482.10 C208.50,479.38 208.90,477.90 209.30,477.90 C209.70,477.90 210.13,479.38 210.50,482.10 C210.87,484.82 211.13,489.55 211.50,494.20 C211.87,498.85 212.25,505.57 212.70,510.00 C213.15,514.43 213.55,518.15 214.20,520.80 C214.85,523.45 216.20,525.05 216.60,525.90" fill="none" stroke="#303030" stroke-width="0.85" stroke-dasharray="2,1.1"/>
<polyline points="176.5,526.5 176.5,472.5 230.5,472.5 230.5,526.5" fill="none" stroke="#9a9a9a" stroke-width="1"/>
<line x1="176.0" y1="526.5" x2="231.0" y2="526.5" stroke="#7a7a7a" stroke-width="1"/>
<path d="M253.40,447.50 C254.02,446.72 255.88,444.78 257.10,442.80 C258.32,440.82 259.70,438.62 260.70,435.60 C261.70,432.58 262.40,428.73 263.10,424.70 C263.80,420.67 264.40,415.03 264.90,411.40 C265.40,407.77 265.73,405.12 266.10,402.90 C266.47,400.68 266.73,397.70 267.10,398.10 C267.47,398.50 267.95,402.28 268.30,405.30 C268.65,408.32 268.90,412.37 269.20,416.20 C269.50,420.03 269.80,424.67 270.10,428.30 C270.40,431.93 270.65,435.17 271.00,438.00 C271.35,440.83 271.80,443.72 272.20,445.30 C272.60,446.88 273.20,447.13 273.40,447.50 L273.40,447.70 L253.40,447.70Z" fill="#afafaf" stroke="none"/>
<path d="M272.20,447.10 C272.50,446.60 273.50,445.62 274.00,444.10 C274.50,442.58 274.80,440.63 275.20,438.00 C275.60,435.37 275.95,431.93 276.40,428.30 C276.85,424.67 277.38,420.03 277.90,416.20 C278.42,412.37 278.78,407.92 279.50,405.30 C280.22,402.68 281.55,400.70 282.20,400.50 C282.85,400.30 283.05,401.48 283.40,404.10 C283.75,406.72 284.02,412.17 284.30,416.20 C284.58,420.23 284.75,424.27 285.10,428.30 C285.45,432.33 285.93,437.57 286.40,440.40 C286.87,443.23 287.13,444.13 287.90,445.30 C288.67,446.47 290.48,447.05 291.00,447.40" fill="none" stroke="#303030" stroke-width="0.85" stroke-dasharray="2,1.1"/>
<polyline points="252.5,447.5 252.5,394.5 306.5,394.5 306.5,447.5" fill="none" stroke="#9a9a9a" stroke-width="1"/>
<line x1="252.0" y1="447.5" x2="307.0" y2="447.5" stroke="#7a7a7a" stroke-width="1"/>
<path d="M309.60,447.50 C310.12,446.72 311.68,444.78 312.70,442.80 C313.72,440.82 314.80,438.62 315.70,435.60 C316.60,432.58 317.40,428.73 318.10,424.70 C318.80,420.67 319.40,415.03 319.90,411.40 C320.40,407.77 320.70,404.82 321.10,402.90 C321.50,400.98 321.88,399.50 322.30,399.90 C322.72,400.30 323.23,402.58 323.60,405.30 C323.97,408.02 324.17,412.37 324.50,416.20 C324.83,420.03 325.22,424.67 325.60,428.30 C325.98,431.93 326.33,435.37 326.80,438.00 C327.27,440.63 327.63,442.68 328.40,444.10 C329.17,445.52 330.28,445.93 331.40,446.50 C332.52,447.07 334.48,447.33 335.10,447.50 L335.10,447.70 L309.60,447.70Z" fill="#afafaf" stroke="none"/>
<path d="M329.00,447.10 C329.30,446.60 330.23,446.02 330.80,444.10 C331.37,442.18 331.90,439.23 332.40,435.60 C332.90,431.97 333.32,426.95 333.80,422.30 C334.28,417.65 334.73,411.53 335.30,407.70 C335.87,403.87 336.63,400.30 337.20,399.30 C337.77,398.30 338.25,399.88 338.70,401.70 C339.15,403.52 339.50,406.77 339.90,410.20 C340.30,413.63 340.65,418.07 341.10,422.30 C341.55,426.53 342.10,431.97 342.60,435.60 C343.10,439.23 343.33,442.13 344.10,444.10 C344.87,446.07 346.68,446.85 347.20,447.40" fill="none" stroke="#303030" stroke-width="0.85" stroke-dasharray="2,1.1"/>
<polyline points="308.5,447.5 308.5,394.5 362.5,394.5 362.5,447.5" fill="none" stroke="#9a9a9a" stroke-width="1"/>
<line x1="308.0" y1="447.5" x2="363.0" y2="447.5" stroke="#7a7a7a" stroke-width="1"/>
<path d="M365.80,447.50 C366.22,446.72 367.38,444.98 368.30,442.80 C369.22,440.62 370.40,437.82 371.30,434.40 C372.20,430.98 373.00,426.33 373.70,422.30 C374.40,418.27 374.80,413.68 375.50,410.20 C376.20,406.72 377.28,402.22 377.90,401.40 C378.52,400.58 378.83,402.83 379.20,405.30 C379.57,407.77 379.80,412.37 380.10,416.20 C380.40,420.03 380.65,424.67 381.00,428.30 C381.35,431.93 381.70,435.17 382.20,438.00 C382.70,440.83 383.30,443.72 384.00,445.30 C384.70,446.88 386.00,447.13 386.40,447.50 L386.40,447.70 L365.80,447.70Z" fill="#afafaf" stroke="none"/>
<path d="M387.60,447.10 C388.02,446.80 389.33,446.82 390.10,445.30 C390.87,443.78 391.60,441.23 392.20,438.00 C392.80,434.77 393.25,430.13 393.70,425.90 C394.15,421.67 394.50,416.43 394.90,412.60 C395.30,408.77 395.73,405.12 396.10,402.90 C396.47,400.68 396.70,398.90 397.10,399.30 C397.50,399.70 398.10,402.08 398.50,405.30 C398.90,408.52 399.13,413.95 399.50,418.60 C399.87,423.25 400.25,428.95 400.70,433.20 C401.15,437.45 401.45,441.73 402.20,444.10 C402.95,446.47 404.70,446.85 405.20,447.40" fill="none" stroke="#303030" stroke-width="0.85" stroke-dasharray="2,1.1"/>
<polyline points="364.5,447.5 364.5,394.5 418.5,394.5 418.5,447.5" fill="none" stroke="#9a9a9a" stroke-width="1"/>
<line x1="364.0" y1="447.5" x2="419.0" y2="447.5" stroke="#7a7a7a" stroke-width="1"/>
<path d="M421.20,447.50 C421.72,446.72 423.28,444.78 424.30,442.80 C425.32,440.82 426.40,438.82 427.30,435.60 C428.20,432.38 429.00,427.73 429.70,423.50 C430.40,419.27 430.80,414.00 431.50,410.20 C432.20,406.40 433.28,401.32 433.90,400.70 C434.52,400.08 434.83,403.52 435.20,406.50 C435.57,409.48 435.80,414.57 436.10,418.60 C436.40,422.63 436.60,427.07 437.00,430.70 C437.40,434.33 437.90,437.87 438.50,440.40 C439.10,442.93 439.95,444.72 440.60,445.90 C441.25,447.08 442.10,447.23 442.40,447.50 L442.40,447.70 L421.20,447.70Z" fill="#afafaf" stroke="none"/>
<path d="M441.20,447.10 C441.50,446.38 442.43,445.32 443.00,442.80 C443.57,440.28 444.08,436.43 444.60,432.00 C445.12,427.57 445.62,420.85 446.10,416.20 C446.58,411.55 447.05,407.02 447.50,404.10 C447.95,401.18 448.33,398.50 448.80,398.70 C449.27,398.90 449.88,402.38 450.30,405.30 C450.72,408.22 450.95,411.97 451.30,416.20 C451.65,420.43 451.97,426.27 452.40,430.70 C452.83,435.13 453.13,440.07 453.90,442.80 C454.67,445.53 455.98,446.33 457.00,447.10 C458.02,447.87 459.50,447.35 460.00,447.40" fill="none" stroke="#303030" stroke-width="0.85" stroke-dasharray="2,1.1"/>
<polyline points="419.5,447.5 419.5,394.5 474.5,394.5 474.5,447.5" fill="none" stroke="#9a9a9a" stroke-width="1"/>
<line x1="419.0" y1="447.5" x2="475.0" y2="447.5" stroke="#7a7a7a" stroke-width="1"/>
<path d="M253.40,525.60 C254.02,524.80 255.98,522.60 257.10,520.80 C258.22,519.00 259.20,517.62 260.10,514.80 C261.00,511.98 261.80,507.93 262.50,503.90 C263.20,499.87 263.80,494.43 264.30,490.60 C264.80,486.77 265.10,483.32 265.50,480.90 C265.90,478.48 266.28,475.70 266.70,476.10 C267.12,476.50 267.63,479.88 268.00,483.30 C268.37,486.72 268.60,492.37 268.90,496.60 C269.20,500.83 269.45,505.07 269.80,508.70 C270.15,512.33 270.50,515.87 271.00,518.40 C271.50,520.93 272.20,522.70 272.80,523.90 C273.40,525.10 274.30,525.32 274.60,525.60 L274.60,525.90 L253.40,525.90Z" fill="#afafaf" stroke="none"/>
<path d="M264.30,525.10 C264.92,524.38 266.98,522.32 268.00,520.80 C269.02,519.28 269.80,518.02 270.40,516.00 C271.00,513.98 271.20,511.93 271.60,508.70 C272.00,505.47 272.37,500.43 272.80,496.60 C273.23,492.77 273.80,488.32 274.20,485.70 C274.60,483.08 274.83,482.27 275.20,480.90 C275.57,479.53 275.95,477.60 276.40,477.50 C276.85,477.40 277.38,479.53 277.90,480.30 C278.42,481.07 279.03,480.38 279.50,482.10 C279.97,483.82 280.25,487.37 280.70,490.60 C281.15,493.83 281.67,497.87 282.20,501.50 C282.73,505.13 283.25,509.18 283.90,512.40 C284.55,515.62 285.33,518.78 286.10,520.80 C286.87,522.82 287.48,523.73 288.50,524.50 C289.52,525.27 291.58,525.25 292.20,525.40" fill="none" stroke="#303030" stroke-width="0.85" stroke-dasharray="2,1.1"/>
<polyline points="252.5,525.5 252.5,472.5 306.5,472.5 306.5,525.5" fill="none" stroke="#9a9a9a" stroke-width="1"/>
<line x1="252.0" y1="525.5" x2="307.0" y2="525.5" stroke="#7a7a7a" stroke-width="1"/>
<path d="M309.00,525.60 C309.52,524.80 311.08,522.80 312.10,520.80 C313.12,518.80 314.20,516.62 315.10,513.60 C316.00,510.58 316.80,506.73 317.50,502.70 C318.20,498.67 318.65,493.60 319.30,489.40 C319.95,485.20 320.85,478.52 321.40,477.50 C321.95,476.48 322.23,480.12 322.60,483.30 C322.97,486.48 323.30,492.15 323.60,496.60 C323.90,501.05 324.07,506.37 324.40,510.00 C324.73,513.63 325.13,516.28 325.60,518.40 C326.07,520.52 326.43,521.68 327.20,522.70 C327.97,523.72 328.48,524.02 330.20,524.50 C331.92,524.98 336.28,525.42 337.50,525.60 L337.50,525.90 L309.00,525.90Z" fill="#afafaf" stroke="none"/>
<path d="M321.70,525.10 C322.22,524.60 323.95,523.62 324.80,522.10 C325.65,520.58 326.27,518.63 326.80,516.00 C327.33,513.37 327.53,509.93 328.00,506.30 C328.47,502.67 329.08,498.03 329.60,494.20 C330.12,490.37 330.43,485.77 331.10,483.30 C331.77,480.83 332.83,479.40 333.60,479.40 C334.37,479.40 335.05,481.43 335.70,483.30 C336.35,485.17 336.90,487.57 337.50,490.60 C338.10,493.63 338.70,497.87 339.30,501.50 C339.90,505.13 340.50,509.18 341.10,512.40 C341.70,515.62 342.20,518.75 342.90,520.80 C343.60,522.85 344.38,523.93 345.30,524.70 C346.22,525.47 347.88,525.28 348.40,525.40" fill="none" stroke="#303030" stroke-width="0.85" stroke-dasharray="2,1.1"/>
<polyline points="308.5,525.5 308.5,472.5 362.5,472.5 362.5,525.5" fill="none" stroke="#9a9a9a" stroke-width="1"/>
<line x1="308.0" y1="525.5" x2="363.0" y2="525.5" stroke="#7a7a7a" stroke-width="1"/>
<path d="M364.00,525.60 C364.52,524.60 366.08,522.00 367.10,519.60 C368.12,517.20 369.20,514.42 370.10,511.20 C371.00,507.98 371.80,504.13 372.50,500.30 C373.20,496.47 373.63,492.08 374.30,488.20 C374.97,484.32 375.88,477.42 376.50,477.00 C377.12,476.58 377.60,482.02 378.00,485.70 C378.40,489.38 378.55,494.85 378.90,499.10 C379.25,503.35 379.70,507.78 380.10,511.20 C380.50,514.62 380.85,517.48 381.30,519.60 C381.75,521.72 382.35,522.90 382.80,523.90 C383.25,524.90 383.80,525.32 384.00,525.60 L384.00,525.90 L364.00,525.90Z" fill="#afafaf" stroke="none"/>
<path d="M364.60,525.40 C365.42,525.05 368.08,524.47 369.50,523.30 C370.92,522.13 372.10,520.62 373.10,518.40 C374.10,516.18 374.80,513.22 375.50,510.00 C376.20,506.78 376.73,502.33 377.30,499.10 C377.87,495.87 378.48,493.23 378.90,490.60 C379.32,487.97 379.45,484.72 379.80,483.30 C380.15,481.88 380.70,481.80 381.00,482.10 C381.30,482.40 381.30,485.30 381.60,485.10 C381.90,484.90 382.50,481.70 382.80,480.90 C383.10,480.10 383.10,479.90 383.40,480.30 C383.70,480.70 384.20,481.78 384.60,483.30 C385.00,484.82 385.40,486.98 385.80,489.40 C386.20,491.82 386.50,494.98 387.00,497.80 C387.50,500.62 388.08,503.47 388.80,506.30 C389.52,509.13 390.48,512.38 391.30,514.80 C392.12,517.22 392.70,519.15 393.70,520.80 C394.70,522.45 396.08,523.93 397.30,524.70 C398.52,525.47 400.38,525.28 401.00,525.40" fill="none" stroke="#303030" stroke-width="0.85" stroke-dasharray="2,1.1"/>
<polyline points="363.5,525.5 363.5,472.5 417.5,472.5 417.5,525.5" fill="none" stroke="#9a9a9a" stroke-width="1"/>
<line x1="363.0" y1="525.5" x2="418.0" y2="525.5" stroke="#7a7a7a" stroke-width="1"/>
<path d="M419.40,525.60 C419.90,524.80 421.38,522.60 422.40,520.80 C423.42,519.00 424.58,517.42 425.50,514.80 C426.42,512.18 427.20,508.73 427.90,505.10 C428.60,501.47 429.13,496.83 429.70,493.00 C430.27,489.17 430.83,484.62 431.30,482.10 C431.77,479.58 432.10,477.30 432.50,477.90 C432.90,478.50 433.35,482.38 433.70,485.70 C434.05,489.02 434.32,493.75 434.60,497.80 C434.88,501.85 435.07,506.57 435.40,510.00 C435.73,513.43 436.13,516.18 436.60,518.40 C437.07,520.62 437.63,522.10 438.20,523.30 C438.77,524.50 439.70,525.22 440.00,525.60 L440.00,525.90 L419.40,525.90Z" fill="#afafaf" stroke="none"/>
<path d="M432.70,525.10 C433.12,524.50 434.48,523.42 435.20,521.50 C435.92,519.58 436.50,516.73 437.00,513.60 C437.50,510.47 437.80,506.53 438.20,502.70 C438.60,498.87 438.93,494.03 439.40,490.60 C439.87,487.17 440.53,483.97 441.00,482.10 C441.47,480.23 441.80,479.20 442.20,479.40 C442.60,479.60 443.00,480.83 443.40,483.30 C443.80,485.77 444.15,490.37 444.60,494.20 C445.05,498.03 445.55,502.47 446.10,506.30 C446.65,510.13 447.30,514.47 447.90,517.20 C448.50,519.93 448.90,521.33 449.70,522.70 C450.50,524.07 452.20,524.95 452.70,525.40" fill="none" stroke="#303030" stroke-width="0.85" stroke-dasharray="2,1.1"/>
<polyline points="418.5,525.5 418.5,472.5 472.5,472.5 472.5,525.5" fill="none" stroke="#9a9a9a" stroke-width="1"/>
<line x1="418.0" y1="525.5" x2="473.0" y2="525.5" stroke="#7a7a7a" stroke-width="1"/>
<line x1="11.3" y1="459.6" x2="76.2" y2="459.6" stroke="#000" stroke-width="1.4"/>
<polygon points="74.7,457.20000000000005 79.2,459.6 74.7,462.0" fill="#000"/>
<line x1="11.3" y1="539.0" x2="76.2" y2="539.0" stroke="#000" stroke-width="1.4"/>
<polygon points="74.7,536.6 79.2,539.0 74.7,541.4" fill="#000"/>
<line x1="253.3" y1="459.6" x2="317.8" y2="459.6" stroke="#000" stroke-width="1.4"/>
<polygon points="316.3,457.20000000000005 320.8,459.6 316.3,462.0" fill="#000"/>
<line x1="253.3" y1="539.0" x2="317.8" y2="539.0" stroke="#000" stroke-width="1.4"/>
<polygon points="316.3,536.6 320.8,539.0 316.3,541.4" fill="#000"/>
<text x="86.6" y="463.8" font-size="10.45" text-anchor="start" >Human CD47</text>
<text x="86.6" y="542.5" font-size="10.45" text-anchor="start" >Human PVR</text>
<text x="327.4" y="462.5" font-size="10.45" text-anchor="start" >Mouse CD47</text>
<text x="327.6" y="542.5" font-size="10.45" text-anchor="start" >Mouse PVR</text>
<text x="36.5" y="387.8" font-size="10.5" text-anchor="middle" >KYSE-70</text>
<text x="92.9" y="387.8" font-size="10.5" text-anchor="middle" >EC9706</text>
<text x="148" y="387.8" font-size="10.5" text-anchor="middle" >HT29</text>
<text x="202.2" y="387.8" font-size="10.5" text-anchor="middle" >MCF7</text>
<text x="281.4" y="387.8" font-size="10.5" text-anchor="middle" >MC38</text>
<text x="334.75" y="387.8" font-size="10.5" text-anchor="middle" >CT26</text>
<text x="392.5" y="387.8" font-size="10.5" text-anchor="middle" >4T1</text>
<text x="444.2" y="387.8" font-size="10.5" text-anchor="middle" >B16-OVA</text>
</svg></body></html>
